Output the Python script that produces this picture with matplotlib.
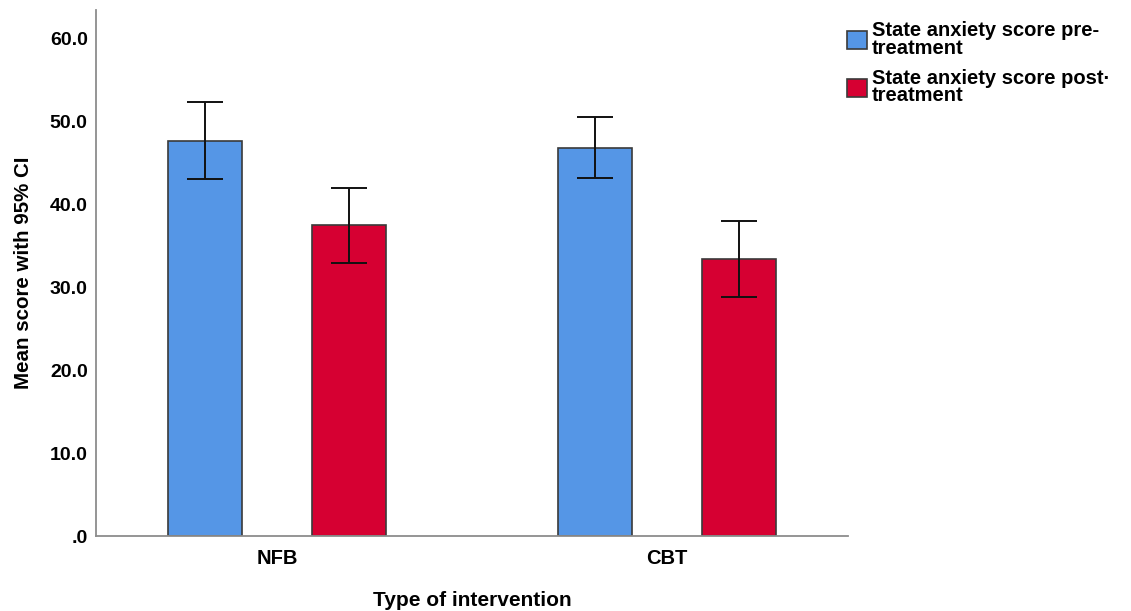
import numpy as np
import matplotlib.pyplot as plt

plt.rcParams['font.family'] = ['Liberation Sans', 'DejaVu Sans']

groups = ['NFB', 'CBT']
series = ['State anxiety score pre-\ntreatment', 'State anxiety score post\u00b7\ntreatment']
means = [[47.6, 46.8], [37.5, 33.4]]
ci_low = [[43.0, 43.1], [32.9, 28.8]]
ci_high = [[52.3, 50.5], [42.0, 38.0]]
colors = ['#5596E6', '#D60032']
yticks = [0, 10, 20, 30, 40, 50, 60]
ytick_labels = ['.0', '10.0', '20.0', '30.0', '40.0', '50.0', '60.0']

fig = plt.figure(figsize=(11.31, 6.11), dpi=100)
ax = fig.add_axes([0.0849, 0.1227, 0.665, 0.861])

x = np.arange(len(groups))
width = 0.19
offsets = [-0.185, 0.185]

handles = []
for i in range(len(series)):
    m = np.array(means[i])
    lo = m - np.array(ci_low[i])
    hi = np.array(ci_high[i]) - m
    b = ax.bar(x + offsets[i], m, width, color=colors[i], edgecolor='#3a3a3a',
               linewidth=1.2, label=series[i], zorder=2)
    handles.append(b)
    ax.errorbar(x + offsets[i], m, yerr=[lo, hi], fmt='none', ecolor='#111111',
                elinewidth=1.4, capsize=13, capthick=1.4, zorder=3)

ax.set_xlim(-0.464, 1.464)
ax.set_ylim(0, 63.4)
ax.set_xticks(x)
ax.set_xticklabels(groups, fontsize=14.5, fontweight='bold')
ax.set_yticks(yticks)
ax.set_yticklabels(ytick_labels, fontsize=14, fontweight='bold')
ax.tick_params(length=0, pad=6)
ax.tick_params(axis='x', pad=9)

for side in ['top', 'right']:
    ax.spines[side].set_visible(False)
for side in ['left', 'bottom']:
    ax.spines[side].set_color('#8c8c8c')
    ax.spines[side].set_linewidth(1.3)

ax.set_xlabel('Type of intervention', fontsize=15, fontweight='bold', labelpad=17)
ax.set_ylabel('Mean score with 95% CI', fontsize=14.8, fontweight='bold', labelpad=12)

leg = fig.legend(handles=handles, labels=series, loc='upper left',
                 bbox_to_anchor=(0.7485, 0.966), frameon=False, fontsize=14.5,
                 handlelength=1.0, handleheight=1.0, handletextpad=0.25,
                 labelspacing=0.55, borderpad=0, borderaxespad=0)
for t in leg.get_texts():
    t.set_fontweight('bold')
    t.set_linespacing(0.92)

fig.savefig('out.png', dpi=100)
